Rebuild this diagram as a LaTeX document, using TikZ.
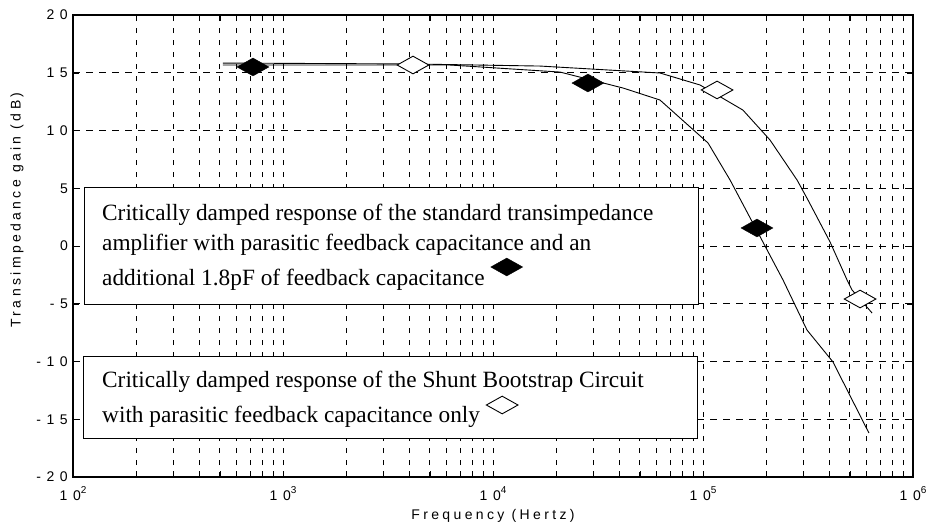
\documentclass[tikz,border=0pt]{standalone}
\usepackage{fontspec}
\setmainfont{Liberation Serif}
\newfontfamily\axisfont[LetterSpace=24]{Liberation Sans}
\newfontfamily\tickfont[LetterSpace=40]{Liberation Sans}
\usetikzlibrary{shapes.geometric}

\tikzset{
  gridv/.style={line width=0.9pt, dash pattern=on 5pt off 7pt},
  gridh/.style={line width=0.9pt, dash pattern=on 7pt off 6pt},
  frame/.style={line width=1.2pt},
  curve/.style={line width=0.9pt},
  fullmark/.style={diamond, draw=black, fill=black, inner sep=0pt,
    minimum width=32pt, minimum height=18pt},
  openmark/.style={diamond, draw=black, fill=white, line width=0.9pt, inner sep=0pt,
    minimum width=32pt, minimum height=18pt},
  legendbox/.style={draw, fill=white, line width=1.2pt, anchor=north west},
  legendline/.style={anchor=base west, inner sep=0pt, font=\fontsize{23.3}{28}\selectfont},
  axistitle/.style={inner sep=0pt, font=\axisfont\fontsize{14}{16}\selectfont},
  ticklabel/.style={inner sep=0pt, font=\tickfont\fontsize{14}{16}\selectfont},
}

\newcommand{\decade}[1]{10\raisebox{7pt}{\fontsize{10}{10}\selectfont #1}}

\begin{document}
\begin{tikzpicture}[x=1pt, y=-1pt]
    \useasboundingbox (0,0) rectangle (927,528);
    % grid and frame (origin at 10^2 Hz, 0 dB)
    \begin{scope}[shift={(73,246)}, x=210pt, y=11.55pt]
    \foreach \d in {0,...,3}
      \foreach \k in {2,...,9}
        \draw[gridv] ({\d+log10(\k)},-20) -- ({\d+log10(\k)},20);
    \foreach \d in {1,2,3}
      \draw[gridv] (\d,-20) -- (\d,20);
    \foreach \v in {-15,-10,...,15}
      \draw[gridh] (0,\v) -- (4,\v);
    \foreach \d in {0,...,3}
      \foreach \k in {2,...,10} {
        \draw ({\d+log10(\k)},-20) -- ++(0,6pt);
        \draw ({\d+log10(\k)},20) -- ++(0,-6pt);
      }
    \foreach \v in {-15,-10,...,15} {
      \draw (0,\v) -- ++(6pt,0);
      \draw (4,\v) -- ++(-6pt,0);
    }
    \draw[frame] (0,-20) rectangle (4,20);
    \foreach \v in {-20,-15,...,20}
      \node[ticklabel, anchor=east] (ytick\v) at ([xshift=-5pt]0,\v) {\v};
    \foreach \d/\e in {0/2,1/3,2/4,3/5,4/6}
      \node[ticklabel, anchor=north] (xtick\e) at ([yshift=-9pt]\d,-20) {\decade{\e}};
    \end{scope}

    \node[axistitle] (xtitle) at (493,516) {Frequency (Hertz)};
    \node[axistitle, rotate=90] (ytitle) at (17,210) {Transimpedance gain (dB)};

    % legend boxes
    \node[legendbox, minimum width=614pt, minimum height=117pt] (stdbox) at (84,187) {};
    \node[legendbox, minimum width=614pt, minimum height=82pt] (sbcbox) at (83,356) {};

    \node[legendline] (std1) at (102,220) {Critically damped response of the standard transimpedance};
    \node[legendline] (std2) at (102,250) {amplifier with parasitic feedback capacitance and an};
    \node[legendline] (std3) at (102,285) {additional 1.8pF of feedback capacitance};
    \node[fullmark] (stdkey) at ([xshift=22pt, yshift=18pt]std3.base east) {};
    \node[legendline] (sbc1) at (102,387) {Critically damped response of the Shunt Bootstrap Circuit};
    \node[legendline] (sbc2) at (102,422) {with parasitic feedback capacitance only};
    \node[openmark] (sbckey) at ([xshift=22pt, yshift=17pt]sbc2.base east) {};

    % responses
    \begin{scope}[shift={(73,246)}, x=210pt, y=11.55pt]
    \draw[curve] plot coordinates {(0.714,15.67) (1.795,15.67) (2.319,15.06)
      (2.619,13.68) (2.795,12.64) (3.024,8.92) (3.129,5.71) (3.381,-2.94)
      (3.495,-7.27) (3.619,-10.04) (3.790,-16.19)};
    \draw[curve] plot coordinates {(0.714,15.84) (1.619,15.76) (2.224,15.58)
      (2.795,14.98) (2.986,13.94) (3.190,11.77) (3.319,9.18) (3.448,5.71)
      (3.5,3.98) (3.605,0.35) (3.686,-2.94) (3.710,-3.81) (3.805,-5.80)};
    \node[fullmark] (std-a) at (0.857,15.5) {};
    \node[fullmark] (std-b) at (2.452,14.11) {};
    \node[fullmark] (std-c) at (3.257,1.56) {};
    \node[openmark] (sbc-a) at (1.619,15.67) {};
    \node[openmark] (sbc-b) at (3.067,13.51) {};
    \node[openmark] (sbc-c) at (3.748,-4.59) {};
    \end{scope}
\end{tikzpicture}
\end{document}
